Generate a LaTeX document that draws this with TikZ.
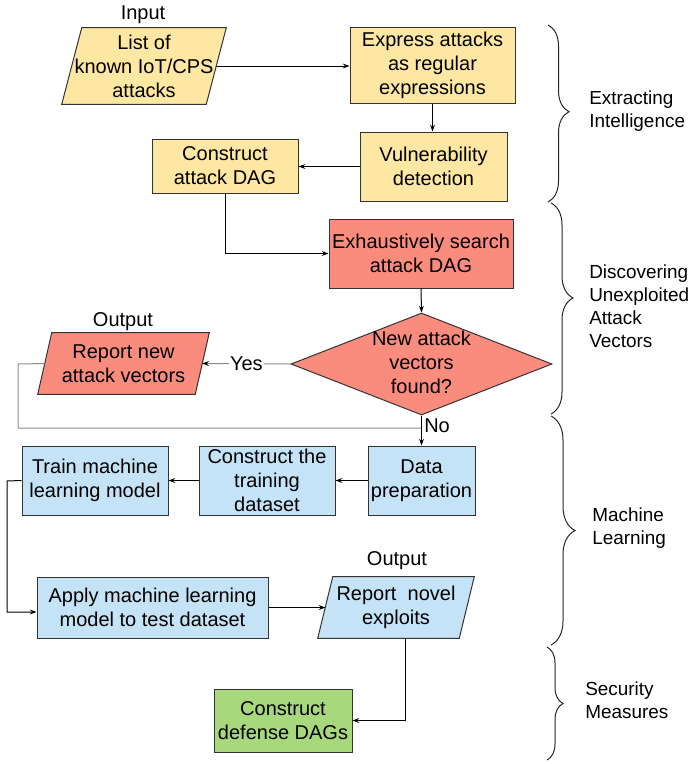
\documentclass[tikz,border=0pt]{standalone}
\usepackage{fontspec}
\setmainfont{Liberation Sans}
\usetikzlibrary{arrows.meta,shapes.geometric,calc,backgrounds,decorations.pathreplacing}

\definecolor{yel}{HTML}{FDE7A2}
\definecolor{red}{HTML}{FA8C7E}
\definecolor{blu}{HTML}{C5E3F6}
\definecolor{grn}{HTML}{A8D87C}
\definecolor{bordc}{HTML}{333333}
\definecolor{loopc}{HTML}{8A8A8A}

\newdimen\pxu \pxu=0.75pt
\newcommand\nodefont{\fontsize{15}{18}\selectfont}
\newcommand\sidefont{\fontsize{14.2}{17.3}\selectfont}

\tikzset{
  blk/.style={draw=bordc, line width=0.75pt, align=center, inner sep=0pt, font=\nodefont},
  iobox/.style={align=center, inner sep=0pt, font=\nodefont},
  tag/.style={inner sep=0pt, font=\nodefont},
  side/.style={align=left, inner sep=0pt, anchor=west, font=\sidefont},
  conn/.style={line width=0.75pt, -{Stealth[length=5pt,width=3.6pt]}},
  loopline/.style={line width=0.75pt, draw=loopc},
  brc/.style={line width=0.75pt, draw=black!85, decorate},
}

\begin{document}
\begin{tikzpicture}[x=0.75pt,y=-0.75pt]
\useasboundingbox (0,0) rectangle (692,764);

% --- Extracting intelligence
\node[iobox, minimum width=144\pxu, minimum height=76\pxu] (inp) at (144,66) {List of\\known IoT/CPS\\attacks};
\node[tag] (inlbl) at (143,15) {Input};
\node[blk, fill=yel, minimum width=165\pxu, minimum height=76\pxu] (expr) at (432.5,65) {Express attacks\\as regular\\expressions};
\node[blk, fill=yel, minimum width=147\pxu, minimum height=69\pxu] (vuln) at (433.5,166.5) {Vulnerability\\detection};
\node[blk, fill=yel, minimum width=146\pxu, minimum height=54\pxu] (cdag) at (225,166) {Construct\\attack DAG};

% --- Discovering unexploited attack vectors
\node[blk, fill=red, minimum width=184\pxu, minimum height=69\pxu] (exh) at (421,253.5) {Exhaustively search\\attack DAG};
\node[diamond, draw=bordc, line width=0.75pt, fill=red, inner sep=0pt, minimum width=261\pxu, minimum height=102\pxu] (dia) at (421.5,364) {};
\node[iobox] (diatxt) at (421.5,362) {New attack\\vectors\\found?};
\node[iobox, minimum width=157\pxu, minimum height=61\pxu] (rep1) at (123.5,363.5) {Report new\\attack vectors};
\node[tag] (out1) at (123,322) {Output};

% --- Machine learning
\node[blk, fill=blu, minimum width=107\pxu, minimum height=69\pxu] (dprep) at (421.5,480.5) {Data\\preparation};
\node[blk, fill=blu, minimum width=136\pxu, minimum height=69\pxu] (ctrain) at (267,480.5) {Construct the\\training\\dataset};
\node[blk, fill=blu, minimum width=146\pxu, minimum height=69\pxu] (train) at (95,480.5) {Train machine\\learning model};
\node[blk, fill=blu, minimum width=231\pxu, minimum height=61\pxu] (apply) at (152.5,607.5) {Apply machine learning\\model to test dataset};
\node[iobox, minimum width=141\pxu, minimum height=61\pxu] (rep2) at (396,607.5) {Report\ \ novel\\exploits};
\node[tag] (out2) at (397,561) {Output};

% --- Security measures
\node[blk, fill=grn, minimum width=138\pxu, minimum height=63\pxu] (def) at (283,720.5) {Construct\\defense DAGs};

% parallelogram outlines behind the input/output texts
\begin{scope}[on background layer]
  \foreach \n/\s/\c in {inp/10/yel, rep1/7/red, rep2/7.5/blu} {
    \filldraw[fill=\c, draw=bordc, line width=0.75pt]
      ($(\n.north west)+(\s,0)$) -- ($(\n.north east)+(\s,0)$) --
      ($(\n.south east)+(-\s,0)$) -- ($(\n.south west)+(-\s,0)$) -- cycle;
  }
\end{scope}

% connectors
\draw[conn] (inp.east) -- (inp.east -| expr.west);
\draw[conn] (expr.south) -- (expr.south |- vuln.north);
\draw[conn] (vuln.west) -- (vuln.west -| cdag.east);
\draw[conn] (cdag.south) |- (exh.west);
\draw[conn] (exh.south) -- (dia.north);
\draw[loopline, -{Stealth[length=5pt,width=3.6pt,color=black]}] (dia.west) -- node[fill=white, inner sep=1pt, font=\nodefont, text=black] (yes) {Yes} (rep1.east);
\coordinate (lp1) at (18,364);
\coordinate (lp2) at (18,428);
\coordinate (lp3) at (421.5,428);
\draw[loopline] (rep1.west) -- (lp1) -- (lp2) -- (lp3);
\draw[conn] (dia.south) -- (dprep.north);
\node[tag, anchor=west] (no) at (424,426) {No};
\draw[conn] (dprep.west) -- (ctrain.east);
\draw[conn] (ctrain.west) -- (train.east);
\coordinate (tl) at (7,481);
\draw[conn] (train.west) -- (tl) |- ($(apply.west)+(0,4.5)$);
\draw[conn] (apply.east) -- ($(apply.east)+(57,0)$);
\draw[conn] ($(rep2.south)+(9,0)$) |- (def.east);

% phase braces and their captions
\draw[brc, decoration={brace, amplitude=21\pxu, aspect=0.49}] (548,25) -- (548,202);
\draw[brc, decoration={brace, amplitude=22\pxu, aspect=0.45}] (551,203) -- (551,414);
\draw[brc, decoration={brace, amplitude=24\pxu, aspect=0.5}] (551,416) -- (551,645);
\draw[brc, decoration={brace, amplitude=16\pxu, aspect=0.5}] (547,647) -- (547,760);

\node[side] (s1) at (589,111.5) {Extracting\\Intelligence};
\node[side] (s2) at (589,306) {Discovering\\Unexploited\\Attack\\Vectors};
\node[side] (s3) at (592,528.5) {Machine\\Learning};
\node[side] (s4) at (585,700.5) {Security\\Measures};
\end{tikzpicture}
\end{document}
